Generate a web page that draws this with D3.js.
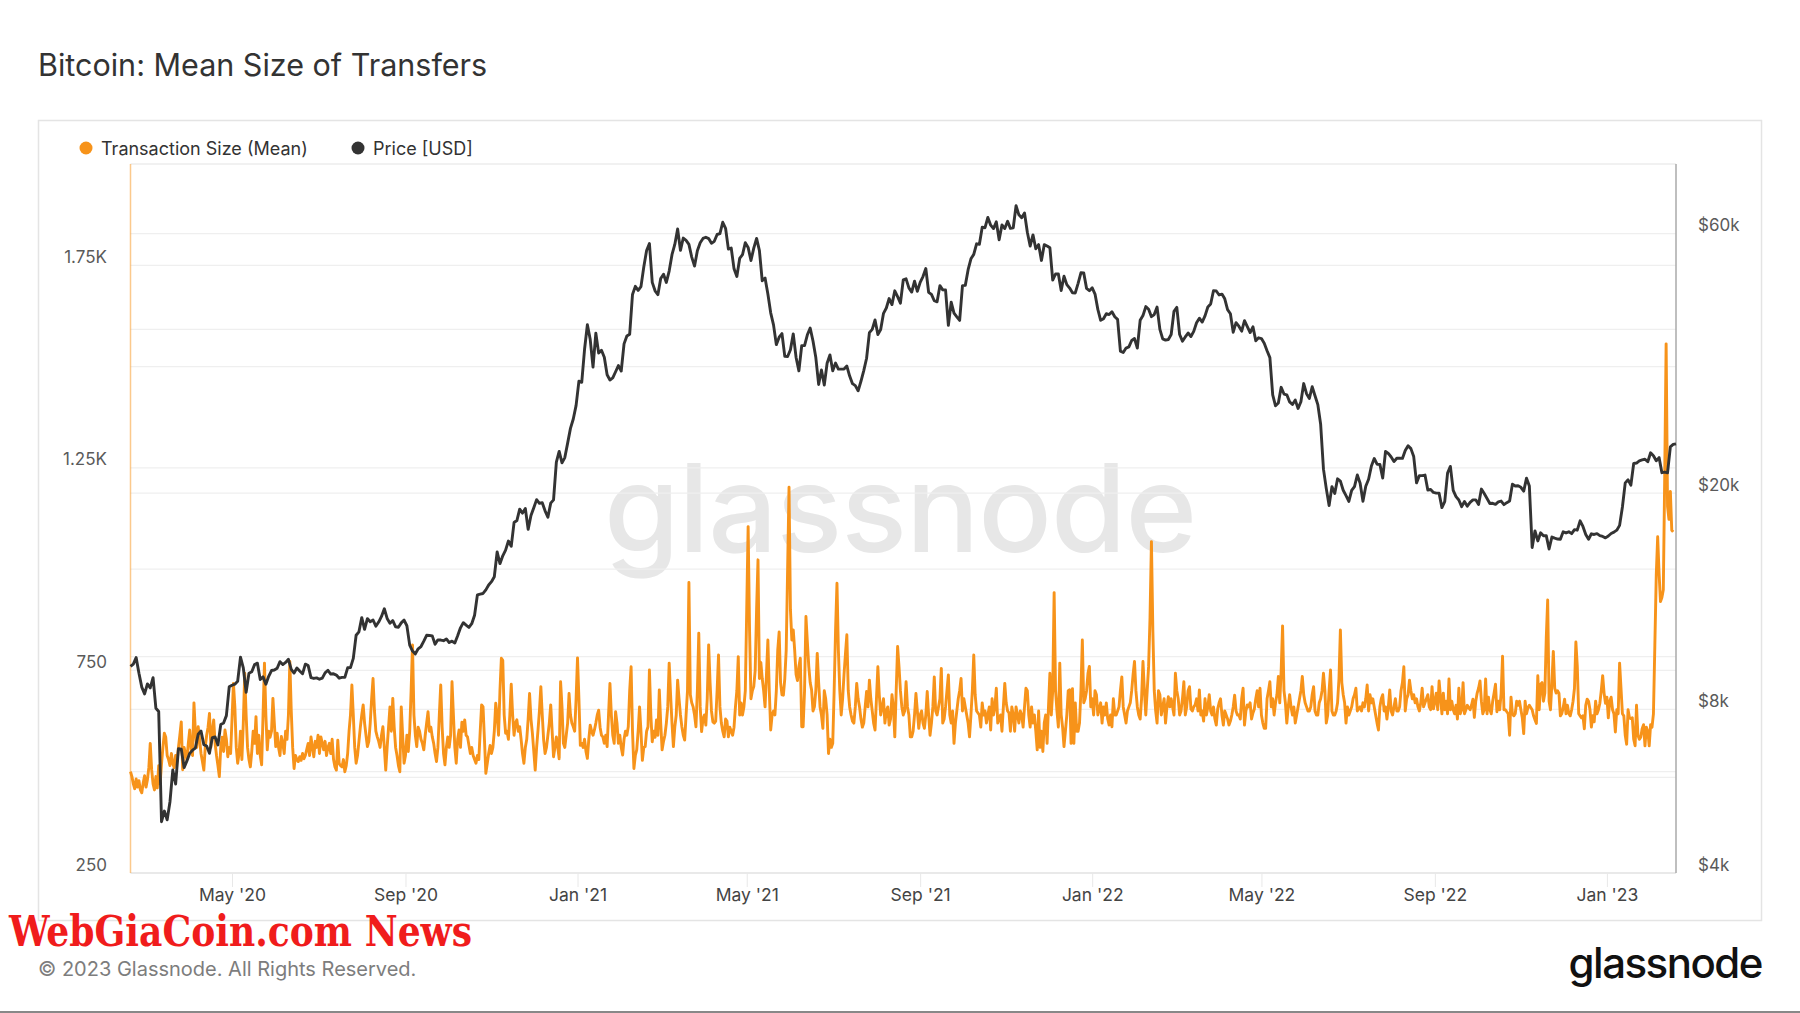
<!DOCTYPE html>
<html><head><meta charset="utf-8">
<script src="https://cdn.jsdelivr.net/npm/d3@7"></script>
<style>
html,body{margin:0;padding:0;background:#fff;}
svg{display:block;font-family:Inter,"Noto Sans",sans-serif;}
</style></head>
<body><svg id="chart" width="1800" height="1013"></svg>
<script>
// ---------------- DATA ----------------
const startDate = "2020-02-19";          // first daily observation
// Transaction Size (Mean), daily, bytes
const sizeMean = [
500,488,470,458,482,462,478,455,448,472,490,462,480,510,
570,505,470,455,488,460,515,470,520,560,
595,585,540,530,515,545,520,510,540,525,
560,590,623,505,560,545,530,570,603,555,
540,670,600,560,611,580,545,525,504,560,
590,610,644,560,600,628,570,540,515,488,
560,585,550,603,580,537,560,545,630,718,660,
560,521,545,600,530,620,743,640,
560,530,512,550,600,570,636,545,
590,540,517,640,768,640,554,600,585,
600,681,620,562,595,560,540,587,570,
545,600,580,640,772,650,560,508,
540,530,525,537,528,545,532,540,
555,570,540,586,560,537,575,
560,590,545,586,570,554,575,
540,560,570,545,580,530,512,504,578,520,
515,512,530,500,515,545,600,640,714,640,
560,521,540,575,610,640,665,620,
590,562,575,620,680,730,650,600,586,575,
560,590,611,560,504,560,610,660,
600,681,610,560,540,515,500,660,590,521,540,590,550,600,
700,813,640,590,562,610,600,580,570,554,590,620,648,600,
610,586,570,545,525,560,640,714,610,545,517,560,586,560,
590,722,640,560,521,580,603,560,622,600,628,590,586,565,
545,560,540,530,521,540,530,600,665,660,580,496,520,545,
565,545,560,600,669,640,590,700,780,775,640,595,600,580,
640,716,640,590,620,628,600,611,580,545,521,560,580,630,
693,630,595,550,504,560,603,650,710,640,578,545,560,590,
620,665,600,537,560,586,560,532,722,660,570,560,590,620,
693,640,620,611,600,680,781,680,565,570,560,580,550,533,
580,615,600,590,603,620,640,652,610,590,586,570,590,562,
640,718,640,590,570,648,620,570,590,560,541,580,600,590,
611,700,759,600,508,540,554,600,660,600,528,560,562,600,
611,751,
640,574,600,585,628,590,702,620,554,575,590,620,660,768,
690,620,562,610,640,726,680,640,611,590,578,640,700,967,
690,670,660,640,611,700,842,660,599,630,640,615,680,813,
720,650,623,620,625,700,788,660,620,600,586,630,625,586,
610,600,590,610,660,700,784,640,670,640,660,700,900,1105,
850,680,700,710,750,900,1023,730,770,730,700,660,740,825,
700,603,640,650,640,700,800,845,720,690,689,730,800,1000,
1202,900,825,850,800,740,725,760,780,611,611,700,883,820,
760,720,702,650,660,700,792,720,660,640,607,700,680,640,
545,580,560,570,700,850,965,800,700,640,680,740,790,838,
700,660,640,625,620,660,718,680,660,630,610,620,660,698,
660,726,680,650,620,603,680,759,690,640,660,680,620,650,
660,615,630,690,660,586,700,809,759,700,660,640,650,722,
660,640,586,
586,600,640,693,650,607,640,650,620,607,640,698,640,590,
620,660,734,650,640,660,680,755,620,630,660,700,739,640,
620,650,570,620,650,680,700,730,650,680,660,640,620,586,
640,700,788,690,650,645,640,610,670,640,650,620,640,660,
603,680,640,660,706,620,630,640,600,660,718,670,650,645,
600,660,640,600,660,640,620,650,640,610,660,706,700,640,
610,660,620,640,600,554,650,560,600,550,620,640,570,660,
743,640,700,942,700,650,610,768,640,610,562,600,640,700,
702,570,705,570,670,600,600,620,700,825,670,680,700,743,
760,660,680,640,700,690,640,655,670,620,660,640,670,630,
615,640,611,680,640,640,650,660,700,734,660,640,620,650,
660,670,700,740,772,700,660,640,630,680,772,700,640,700,
760,880,1068,850,700,650,620,700,690,640,660,680,620,660,
685,660,
680,660,640,743,700,680,640,650,680,722,640,660,700,710,
655,650,660,665,680,650,702,640,650,625,680,640,660,690,
650,640,660,630,615,655,670,680,640,615,650,640,630,615,
625,640,660,689,650,640,640,630,680,706,615,650,665,660,
670,630,645,655,680,700,660,706,640,620,607,607,680,700,
722,660,680,640,670,690,735,670,750,860,700,670,620,660,
690,660,640,660,620,640,660,680,700,735,690,670,660,650,
650,660,690,710,650,640,640,670,680,700,743,700,620,640,
700,751,650,640,640,650,670,730,850,720,690,670,620,660,
640,650,660,680,690,706,650,655,660,650,670,660,680,714,
650,690,670,680,660,640,620,603,660,680,690,650,660,630,
660,702,650,640,660,680,650,650,660,700,720,759,650,680,
690,726,700,680,690,670,680,660,650,670,706,660,670,680,
690,660,
653,710,655,674,694,653,724,684,643,694,653,674,643,729,
653,674,653,643,664,630,706,643,653,720,643,653,664,658,
653,664,679,634,674,694,706,724,674,643,653,729,643,684,
653,643,674,694,716,648,674,653,694,785,653,653,648,643,
590,684,643,638,643,674,664,674,653,633,594,674,643,658,
664,658,653,638,628,619,737,653,716,720,674,694,830,924,
674,653,720,797,706,694,700,694,638,643,658,679,643,664,
643,638,653,674,706,820,760,643,638,633,638,606,664,679,
674,653,610,638,623,674,643,653,669,700,737,694,669,684,
633,674,684,653,643,598,653,643,768,706,643,638,590,568,
653,633,631,633,580,564,664,590,580,585,606,616,564,610,
600,564,616,610,
643,812,985,1080,990,920,930,949,1230,1556,1155,1123,1192,1096,1092
];
// Price [USD], one value every 2 days from startDate
const priceUsd = [
9600,9690,9960,9320,8790,8540,8910,8760,9150,8040,
7930,4970,5200,5010,5410,6190,5830,6770,6760,6250,
6430,6640,6730,6790,7200,7300,6890,6850,6640,7100,
7120,6880,7500,7550,7790,8800,8860,8900,9010,9980,
9540,8600,9320,9380,9670,9730,9080,9180,8900,9200,
9430,9450,9520,9790,9670,9760,9890,9480,9330,9530,
9410,9300,9690,9630,9150,9120,9140,9090,9130,9340,
9440,9290,9300,9250,9130,9160,9160,9540,9550,9930,
10950,11110,11800,11230,11750,11600,11680,11380,11580,11860,
12250,11760,11520,11650,11350,11330,11540,11680,11400,10500,
10240,10120,10340,10440,10680,10950,10940,10920,10540,10740,
10730,10700,10780,10620,10680,10600,10930,11300,11550,11430,
11320,11500,11920,12990,13030,13070,13270,13550,13740,14030,
15590,14830,15330,15700,16320,15960,17650,17800,18680,18370,
18730,17150,18180,18800,19450,19150,19190,18550,18060,19160,
19430,22800,23860,22730,23240,24710,26300,27370,28990,32130,
31970,36770,40800,38350,34100,39370,36180,36630,35550,33000,
32290,32570,33430,34320,33540,37620,38900,39200,46390,48000,
47190,47940,52120,55890,57540,48820,47100,46340,49630,50540,
48800,51210,54900,57330,61200,55900,58900,58330,57350,54340,
52300,55830,57750,58800,59100,58760,57600,58090,59790,60000,
62970,61380,56200,56470,51700,50050,54020,54880,57750,56610,
53550,56430,58800,55860,49150,49720,46460,42910,40780,37500,
38700,39300,35680,35660,36700,39250,35520,33560,37350,37340,
39100,40220,38090,35500,31680,33680,31600,34650,35910,33570,
34690,33800,33800,33820,34250,32830,31790,31530,30840,32110,
33600,35400,39460,40010,41630,39150,39970,42820,43800,45590,
44430,47100,45950,44700,49320,49550,47700,46850,49060,46990,
48830,50030,51770,46810,46390,45160,44960,48150,47290,47260,
40700,44880,42840,42180,41560,48160,48200,51510,53950,54960,
57480,57370,61670,61530,64280,62210,61310,63080,58480,62270,
61320,63230,61370,61530,67550,64990,64180,65470,60360,56940,
59700,56300,57280,53570,57270,56950,56520,49300,50580,50590,
47150,50100,48360,47650,46700,46680,48620,50840,50800,47590,
47130,47690,46460,43540,41560,41860,42740,42590,43100,42200,
41740,36480,36280,36960,37140,38170,38480,36950,41570,42410,
44060,43570,42210,42590,43960,40000,38430,38230,38330,39140,
43190,43920,39140,38060,38740,39390,38810,39670,41140,41940,
41260,42360,43990,44550,47130,47060,46280,46450,45540,43500,
42750,39530,41150,40550,39710,41500,40480,39470,40430,38130,
38600,38470,37710,36550,35500,30300,28940,29280,31300,30420,
30320,29430,29100,29650,28620,29450,31800,30470,29860,31370,
30200,29090,26760,22130,20380,18970,20550,19960,21240,21030,
20240,19780,19300,20220,20550,21590,20850,19320,20580,21200,
22430,23150,22600,22580,21310,23850,23650,23300,22850,23180,
23180,23160,23950,24440,24140,23340,20880,21530,21530,21580,
20260,20300,20050,19990,19990,18800,19290,21770,22390,20230,
19700,19420,18880,19300,18920,19220,19430,19430,19050,20340,
19960,19550,19130,19150,19070,19270,19330,19040,19200,19330,
20770,20600,20630,20490,20160,21300,20600,15880,17040,16330,
16900,16690,16700,15780,16600,16520,16460,16440,16970,16890,
16970,16840,17130,17090,17780,17360,16780,16440,16830,16780,
16840,16700,16640,16540,16670,16850,16950,17090,17440,18850,
20880,21150,20680,22670,22710,22920,23010,23080,22830,23720,
23430,22930,23240,21800,21860,21790,24320,24570,24640
];
const xDomain = ["2020-02-19","2023-02-19"];
const xTickDates = ["2020-05-01","2020-09-01","2021-01-01","2021-05-01","2021-09-01","2022-01-01","2022-05-01","2022-09-01","2023-01-01"];
const xTickLabels = ["May '20","Sep '20","Jan '21","May '21","Sep '21","Jan '22","May '22","Sep '22","Jan '23"];
const leftDomain = [250, 2000];
const leftGrid = [500,750,1000,1250,1500,1750];
const leftTicks = [250,750,1250,1750];
const leftTickLabels = ["250","750","1.25K","1.75K"];
const rightDomain = [4000, 80600];
const rightGrid = [6000,8000,10000,20000,40000,60000];
const rightTicks = [4000,8000,20000,60000];
const rightTickLabels = ["$4k","$8k","$20k","$60k"];
const seriesNames = ["Transaction Size (Mean)","Price [USD]"];
const seriesColors = ["#f7931a","#333333"];

// ---------------- LAYOUT ----------------
const W = 1800, H = 1013;
const P = {left:130.5, right:1676, top:164, bottom:873};
const DAY = 864e5;
const t0 = Date.parse(startDate + "T00:00:00Z");
const sizeData = sizeMean.map((v,i)=>({date:new Date(t0 + i*DAY), v}));
const priceData = priceUsd.map((v,i)=>({date:new Date(t0 + 2*i*DAY), v}));

const svg = d3.select("#chart");
svg.append("rect").attr("width",W).attr("height",H).attr("fill","#fff");

const x = d3.scaleUtc().domain(xDomain.map(d=>new Date(d+"T00:00:00Z"))).range([P.left, P.right]);
const yL = d3.scaleLinear().domain(leftDomain).range([P.bottom, P.top]);
const yR = d3.scaleLog().domain(rightDomain).range([P.bottom, P.top]);

// title
svg.append("text").attr("x",38).attr("y",76).attr("font-size",30.5).attr("fill","#333")
  .text("Bitcoin: Mean Size of Transfers");

// card
svg.append("rect").attr("x",38.5).attr("y",120.5).attr("width",1723).attr("height",800)
  .attr("fill","#fff").attr("stroke","#e4e4e4").attr("stroke-width",1.5);

// watermark
svg.append("text").attr("x",900).attr("y",552).attr("text-anchor","middle")
  .attr("font-size",122).attr("font-weight",500).attr("fill","#e7e7e7").attr("letter-spacing",-1)
  .text("glassnode");

// grid lines
const grid = svg.append("g").attr("stroke","#efefef").attr("stroke-width",1.2);
leftGrid.forEach(v=>grid.append("line").attr("x1",P.left).attr("x2",P.right).attr("y1",yL(v)).attr("y2",yL(v)));
rightGrid.forEach(v=>grid.append("line").attr("x1",P.left).attr("x2",P.right).attr("y1",yR(v)).attr("y2",yR(v)));
svg.append("line").attr("x1",P.left).attr("x2",P.right).attr("y1",P.top).attr("y2",P.top).attr("stroke","#ececec").attr("stroke-width",1.5);
svg.append("line").attr("x1",P.left).attr("x2",P.right).attr("y1",P.bottom).attr("y2",P.bottom).attr("stroke","#e2e2e2").attr("stroke-width",1.5);

// x axis
const xAxis = d3.axisBottom(x).tickValues(xTickDates.map(d=>new Date(d+"T00:00:00Z")))
  .tickFormat((d,i)=>xTickLabels[i]).tickSize(14).tickPadding(0);
const gx = svg.append("g").attr("transform",`translate(0,${P.bottom})`).call(xAxis);
gx.select(".domain").remove();
gx.selectAll(".tick line").attr("stroke","#e8e8e8");
gx.selectAll(".tick text").attr("y",28).attr("dy",null).attr("font-size",17.5)
  .attr("fill","#444").attr("font-family","Inter,sans-serif");

// left axis
const yAxisL = d3.axisLeft(yL).tickValues(leftTicks).tickFormat((d,i)=>leftTickLabels[i]).tickSize(0).tickPadding(0);
const gl = svg.append("g").attr("transform","translate(107,0)").call(yAxisL);
gl.select(".domain").remove();
gl.selectAll(".tick text").attr("dy","-3").attr("font-size",17).attr("fill","#5a5a5a").attr("font-family","Inter,sans-serif");

// right axis
const yAxisR = d3.axisRight(yR).tickValues(rightTicks).tickFormat((d,i)=>rightTickLabels[i]).tickSize(0).tickPadding(0);
const gr = svg.append("g").attr("transform","translate(1698,0)").call(yAxisR);
gr.select(".domain").remove();
gr.selectAll(".tick text").attr("dy","-3").attr("font-size",17).attr("fill","#5a5a5a").attr("font-family","Inter,sans-serif");

// axis lines
svg.append("line").attr("x1",P.left).attr("x2",P.left).attr("y1",P.top).attr("y2",P.bottom)
  .attr("stroke","#f7931a").attr("stroke-opacity",0.5).attr("stroke-width",1.5);
svg.append("line").attr("x1",P.right).attr("x2",P.right).attr("y1",P.top).attr("y2",P.bottom)
  .attr("stroke","#aaa").attr("stroke-width",1.5);

// lines
const lineSize = d3.line().x(d=>x(d.date)).y(d=>yL(d.v));
const linePrice = d3.line().x(d=>x(d.date)).y(d=>yR(d.v));
svg.append("path").datum(sizeData).attr("d",lineSize).attr("fill","none")
  .attr("stroke",seriesColors[0]).attr("stroke-width",2.9).attr("stroke-linejoin","round");
svg.append("path").datum(priceData).attr("d",linePrice).attr("fill","none")
  .attr("stroke",seriesColors[1]).attr("stroke-width",2.9).attr("stroke-linejoin","round");

// legend
const legX = [86, 358];
seriesNames.forEach((n,i)=>{
  svg.append("circle").attr("cx",legX[i]).attr("cy",148).attr("r",6.5).attr("fill",seriesColors[i]);
  svg.append("text").attr("x",legX[i]+15).attr("y",154.5).attr("font-size",18).attr("fill","#333").text(n);
});

// footer
svg.append("text").attr("x",38).attr("y",976).attr("font-size",20).attr("fill","#7d7d7d")
  .text("© 2023 Glassnode. All Rights Reserved.");
svg.append("text").attr("x",1762).attr("y",978).attr("text-anchor","end").attr("font-size",42)
  .attr("font-weight",500).attr("fill","#111").attr("letter-spacing",-1.5).text("glassnode");
svg.append("text").attr("x",9).attr("y",945.5).attr("font-size",42).attr("font-weight","bold")
  .attr("font-family","'DejaVu Serif Condensed','DejaVu Serif',serif").attr("fill","#f01c1c")
  .attr("textLength",463).attr("lengthAdjust","spacingAndGlyphs").text("WebGiaCoin.com News");
svg.append("rect").attr("x",0).attr("y",1011).attr("width",W).attr("height",2).attr("fill","#888");
</script>
</body></html>
